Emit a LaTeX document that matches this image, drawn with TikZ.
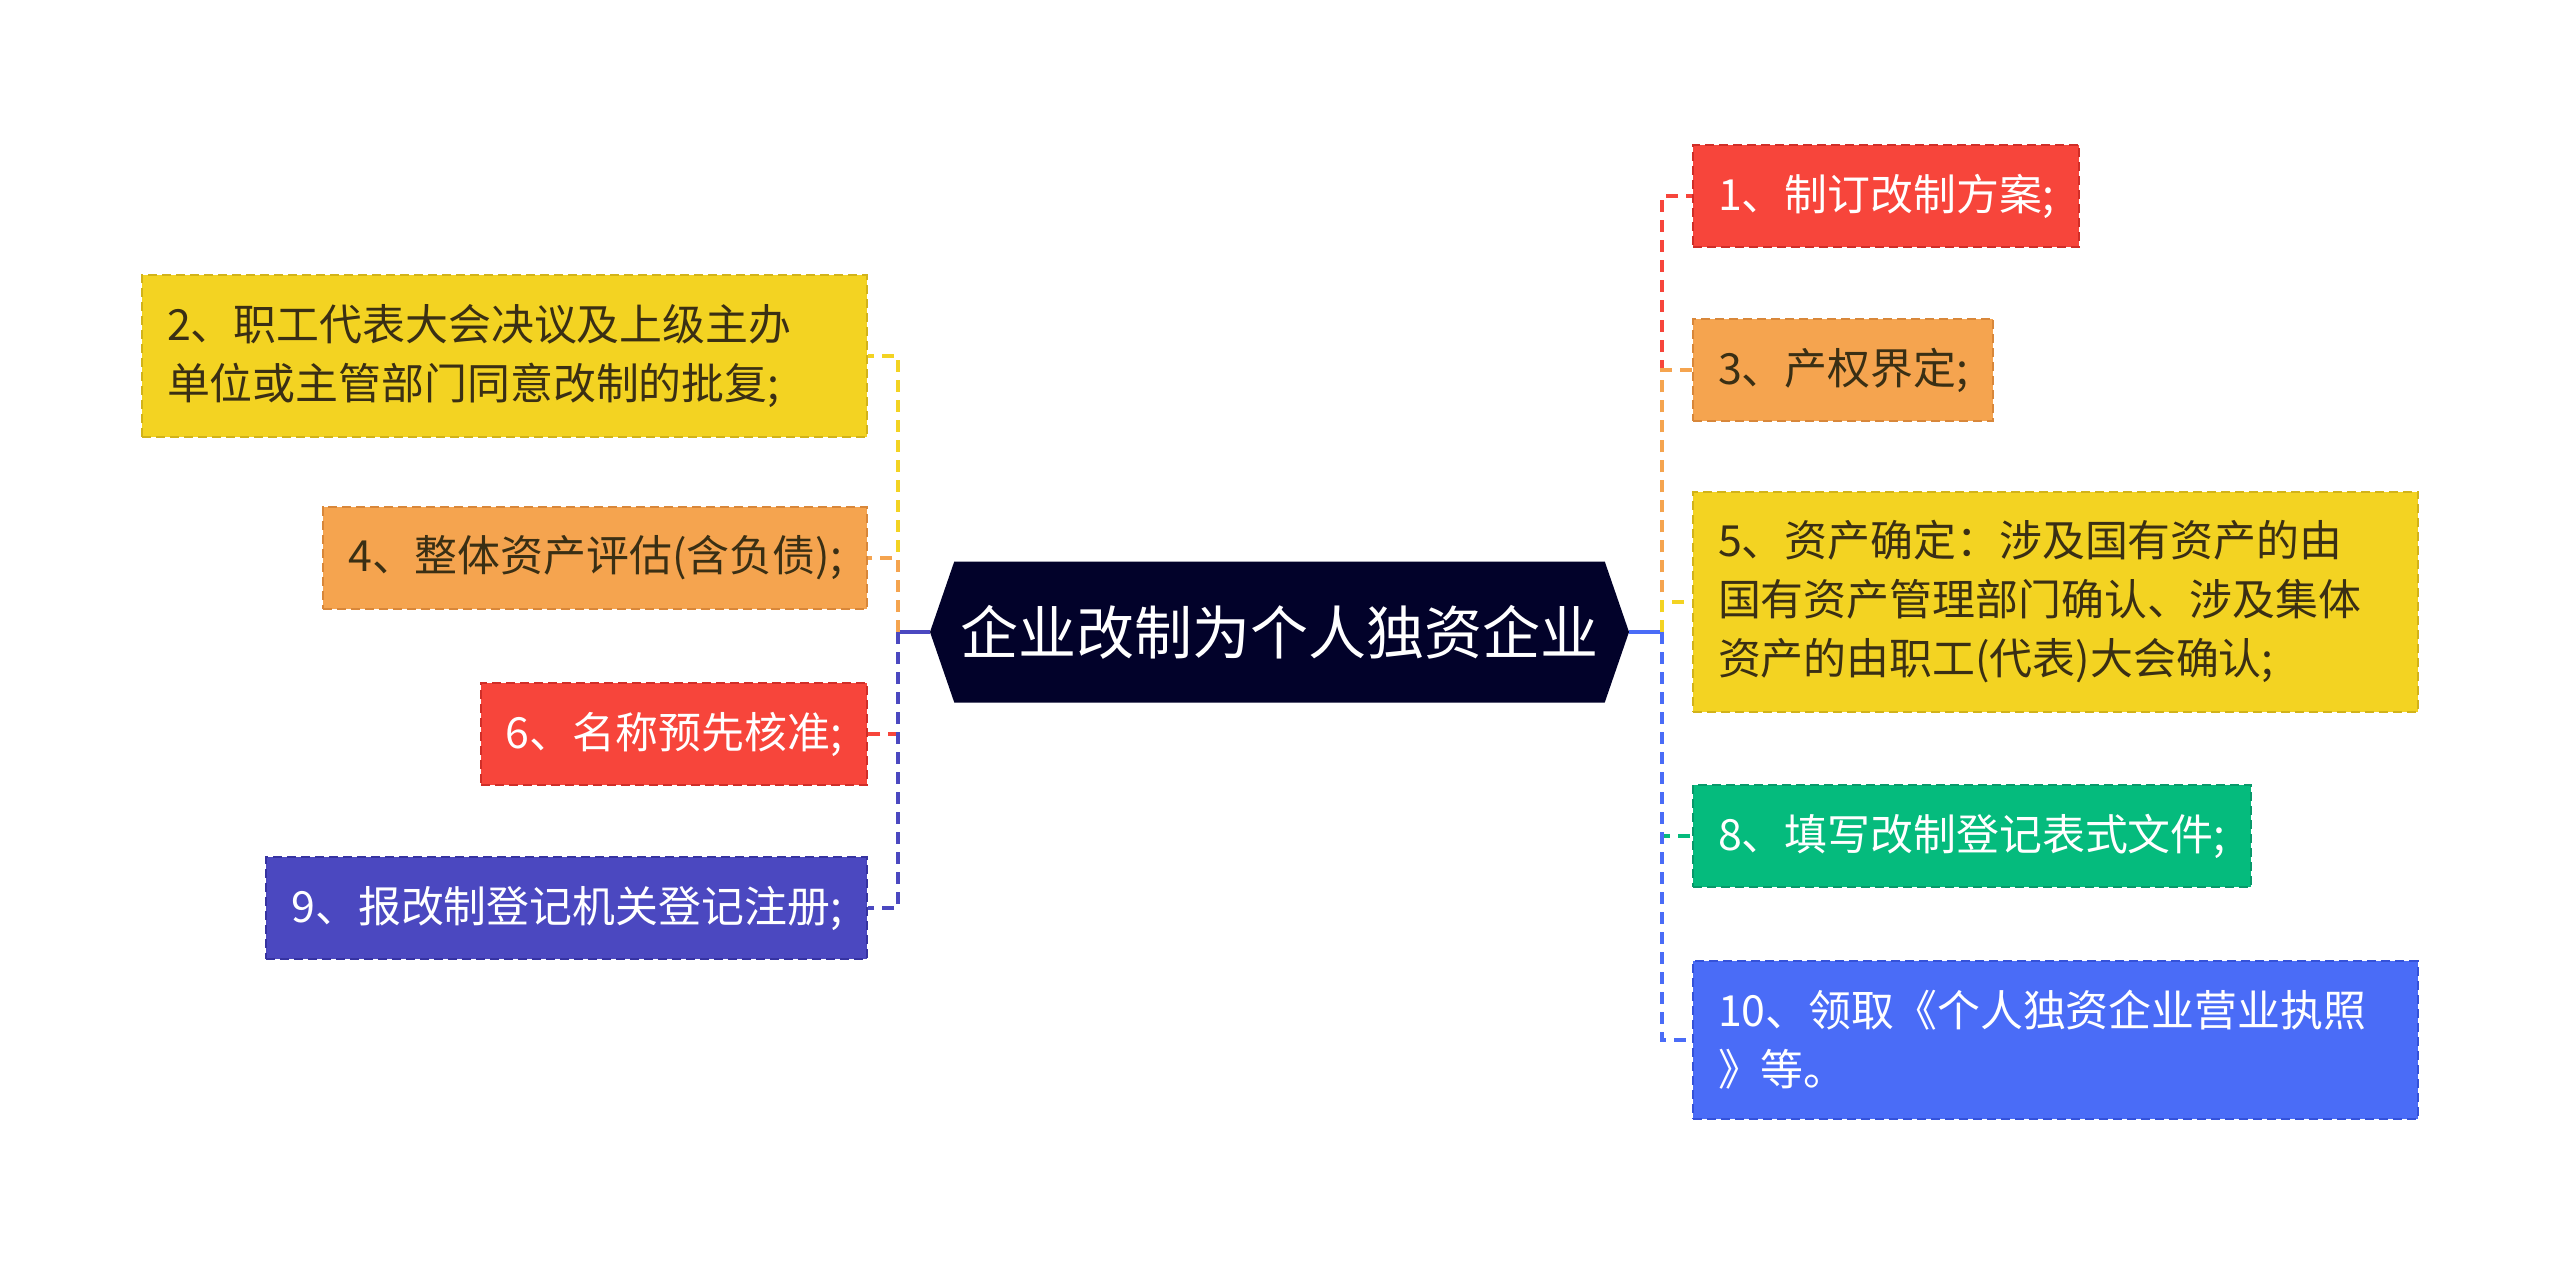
\documentclass[tikz,border=0pt]{standalone}
\usepackage{fontspec}
\setmainfont{Noto Sans CJK SC}
\usepackage{tikz}
\usetikzlibrary{shapes.symbols, positioning}
\definecolor{hubnavy}{HTML}{02022A}
\definecolor{inkdark}{HTML}{3A2F14}
\definecolor{leafred}{HTML}{F7453B}
\definecolor{leafredline}{HTML}{D02E28}
\definecolor{leaforange}{HTML}{F5A44F}
\definecolor{leaforangeline}{HTML}{D8873A}
\definecolor{leafyellow}{HTML}{F3D322}
\definecolor{leafyellowline}{HTML}{D2B31A}
\definecolor{leafgreen}{HTML}{05BB7D}
\definecolor{leafgreenline}{HTML}{08996A}
\definecolor{leafblue}{HTML}{4A6CF7}
\definecolor{leafblueline}{HTML}{3552D9}
\definecolor{leafpurple}{HTML}{4B48C0}
\definecolor{leafpurpleline}{HTML}{3633A0}

\begin{document}
\begin{tikzpicture}[x=1pt, y=1pt,
	hub/.style={shape=signal, signal to=west and east, signal pointer angle=142, fill=hubnavy, text=white, font=\fontsize{58}{70}\selectfont, minimum height=141pt, minimum width=699pt, inner xsep=0pt},
	leaf/.style={rectangle, line width=2pt, dash pattern=on 9pt off 5pt, inner xsep=25pt, inner ysep=29pt, font=\fontsize{42.9}{59}\selectfont, align=left},
	redleaf/.style={leaf, fill=leafred, draw=leafredline, text=white},
	orangeleaf/.style={leaf, fill=leaforange, draw=leaforangeline, text=inkdark},
	yellowleaf/.style={leaf, fill=leafyellow, draw=leafyellowline, text=inkdark},
	greenleaf/.style={leaf, fill=leafgreen, draw=leafgreenline, text=white},
	blueleaf/.style={leaf, fill=leafblue, draw=leafblueline, text=white},
	purpleleaf/.style={leaf, fill=leafpurple, draw=leafpurpleline, text=white},
	link/.style={line width=4pt, dash pattern=on 12pt off 8pt}]
	\useasboundingbox (0,0) rectangle (2560,-1265);
	\node[hub] (hub) at (1279.5,-632) {企业改制为个人独资企业};
	\coordinate (lbus) at (898,-632);
	\coordinate (rbus) at (1662,-632);
	% left branches
	\node[yellowleaf, text width=675pt, anchor=east] (n2) at (868,-356) {2、职工代表大会决议及上级主办\\单位或主管部门同意改制的批复;};
	\node[orangeleaf, anchor=east] (n4) at (868,-558) {4、整体资产评估(含负债);};
	\node[redleaf, anchor=east] (n6) at (868,-734) {6、名称预先核准;};
	\node[purpleleaf, anchor=east] (n9) at (868,-908) {9、报改制登记机关登记注册;};
	% right branches
	\node[redleaf, anchor=west] (n1) at (1692,-196) {1、制订改制方案;};
	\node[orangeleaf, anchor=west] (n3) at (1692,-370) {3、产权界定;};
	\node[yellowleaf, text width=675pt, anchor=west] (n5) at (1692,-602) {5、资产确定：涉及国有资产的由\\国有资产管理部门确认、涉及集体\\资产的由职工(代表)大会确认;};
	\node[greenleaf, anchor=west] (n8) at (1692,-836) {8、填写改制登记表式文件;};
	\node[blueleaf, text width=675pt, anchor=west] (n10) at (1692,-1040) {10、领取《个人独资企业营业执照\\》等。};
	\draw[line width=4pt, leafpurple] (hub.west) -- (lbus);
	\draw[line width=4pt, leafblue] (hub.east) -- (rbus);
	\draw[link, leafyellow] (lbus) |- (n2.east);
	\draw[link, leaforange] (lbus) |- (n4.east);
	\draw[link, leafred] (lbus) |- (n6.east);
	\draw[link, leafpurple] (lbus) |- (n9.east);
	\draw[link, leafred] (rbus) |- (n1.west);
	\draw[link, leaforange] (rbus) |- (n3.west);
	\draw[link, leafyellow] (rbus) |- (n5.west);
	\draw[link, leafgreen] (rbus) |- (n8.west);
	\draw[link, leafblue] (rbus) |- (n10.west);
\end{tikzpicture}
\end{document}
